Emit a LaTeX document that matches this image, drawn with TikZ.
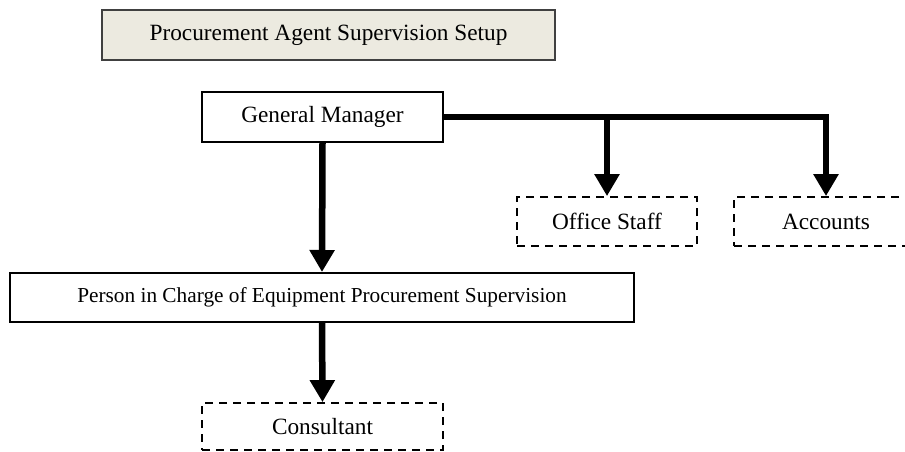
\documentclass[tikz,border=0pt]{standalone}
\usepackage{fontspec}
\setmainfont{Liberation Serif}
\usetikzlibrary{arrows.meta}
\definecolor{titlefill}{RGB}{236,234,224}
\tikzset{
  box/.style={rectangle, draw=black, line width=2pt, inner sep=0pt, font=\fontsize{23.3}{28}\selectfont},
  dbox/.style={box, dash pattern=on 8pt off 6pt, line width=1.8pt},
  conn/.style={line width=6.5pt, -{Triangle[width=24pt,length=22pt]}},
  bar/.style={line width=6.5pt}
}
\begin{document}
\begin{tikzpicture}[x=1pt,y=-1pt]
\useasboundingbox (0,0) rectangle (905,451);
\node[box, draw=black!75, line width=2.5pt, fill=titlefill, minimum width=453pt, minimum height=50pt] (title) at (328.5,35) {Procurement Agent Supervision Setup};
\node[box, minimum width=241pt, minimum height=50pt] (gm) at (322.5,117) {General Manager};
\node[dbox, minimum width=180pt, minimum height=49pt] (ofs) at (607,221.5) {Office Staff};
\node[dbox, minimum width=184pt, minimum height=49pt] (acc) at (826,221.5) {Accounts};
\node[box, minimum width=624pt, minimum height=49pt, font=\fontsize{21.3}{26}\selectfont] (pic) at (322,297.5) {Person in Charge of Equipment Procurement Supervision};
\node[dbox, minimum width=241pt, minimum height=47pt] (cons) at (322.5,426.5) {Consultant};
\draw[conn] (gm.east) -| (acc.north);
\draw[conn] (ofs.north |- gm.east) -- (ofs.north);
\draw[conn] (gm.south) -- (pic.north);
\draw[conn] (pic.south) -- (cons.north);
\end{tikzpicture}
\end{document}
